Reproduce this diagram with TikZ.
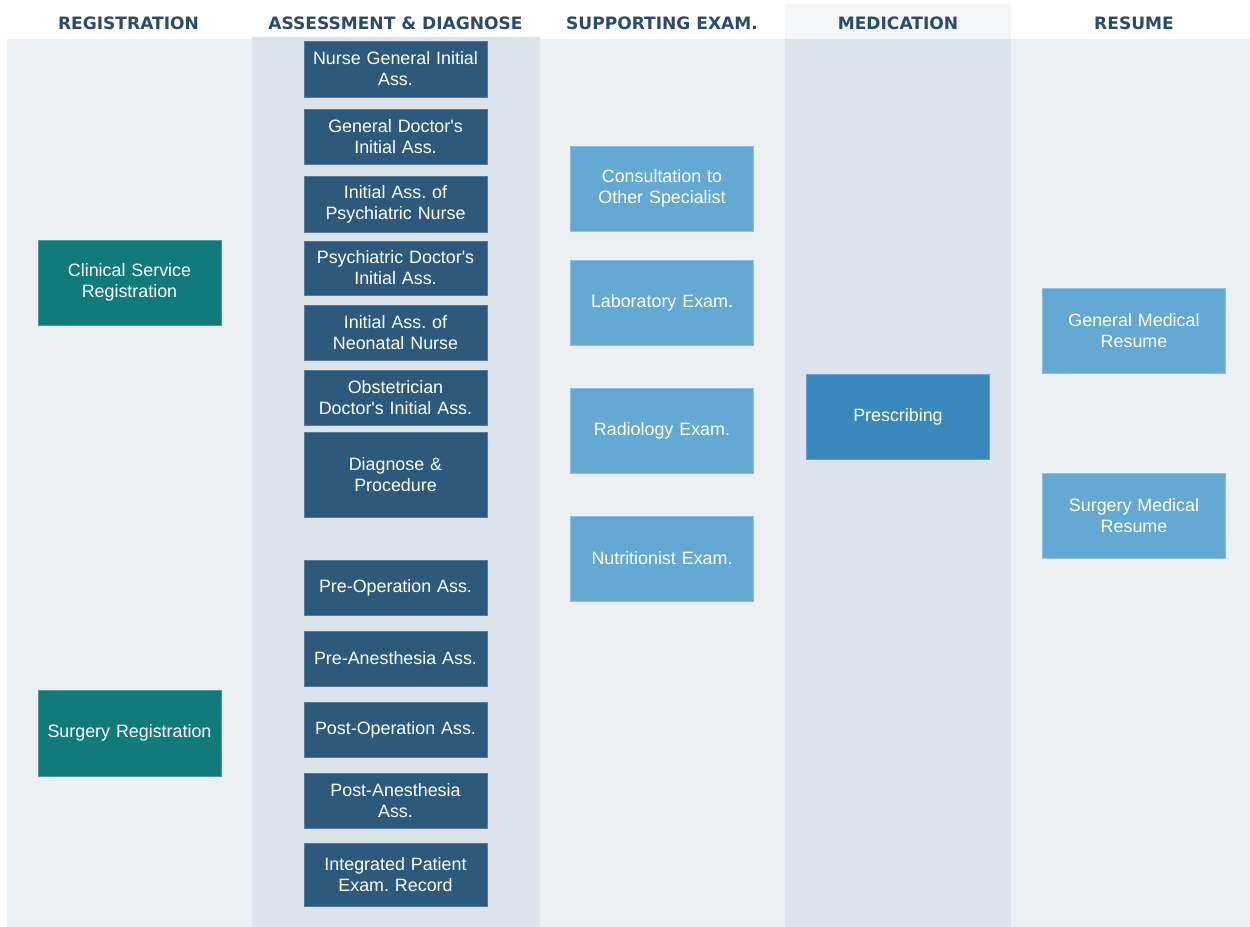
\documentclass[tikz,border=0pt]{standalone}
\usepackage{fontspec}
\setmainfont{Liberation Sans}
\newfontfamily\headfont{DejaVu Sans}
\frenchspacing

\definecolor{panelbg}{HTML}{ECF0F3}
\definecolor{lanebg}{HTML}{DCE3EA}
\definecolor{medhead}{HTML}{F4F6F8}
\definecolor{headtext}{HTML}{2C4A6B}
\definecolor{tealbox}{HTML}{117A7B}
\definecolor{navybox}{HTML}{2D5A7C}
\definecolor{skybox}{HTML}{64A8D4}
\definecolor{midbox}{HTML}{3A89BE}

% straight apostrophe, as in "Doctor's"
\newcommand{\apos}{\textquotesingle}

\tikzset{
  card/.style={rectangle, inner sep=0pt, minimum width=137.25pt,
    text width=130pt, align=center, text=white,
    font=\fontsize{13.4}{15.75}\selectfont, line width=0.6pt},
  regcard/.style={card, fill=tealbox, draw=tealbox!75!white},
  asscard/.style={card, fill=navybox, draw=navybox!80!white},
  supcard/.style={card, fill=skybox, draw=skybox!75!white},
  medcard/.style={card, fill=midbox, draw=midbox!80!white},
  bh/.style={minimum height=#1*0.75pt},
  lanehead/.style={font=\headfont\bfseries\fontsize{12.8}{14}\selectfont,
    text=headtext, inner sep=0pt},
}

\begin{document}
\begin{tikzpicture}[x=0.75pt,y=-0.75pt]
  \useasboundingbox (0,0) rectangle (1250,927);

  % swimlane backgrounds
  \fill[white] (0,0) rectangle (1250,927);
  \fill[panelbg] (7,39) rectangle (1250,927);
  \fill[lanebg] (252,37) rectangle (540,927);
  \fill[medhead] (785,4) rectangle (1011,39);
  \fill[lanebg] (785,39) rectangle (1011,927);

  % lane titles
  \node[lanehead] (hreg) at (128.5,23.5) {REGISTRATION};
  \node[lanehead] (hass) at (395.5,23.5) {ASSESSMENT \& DIAGNOSE};
  \node[lanehead] (hsup) at (662,23.5) {SUPPORTING EXAM.};
  \node[lanehead] (hmed) at (898,23.5) {MEDICATION};
  \node[lanehead] (hres) at (1134,23.5) {RESUME};

  % registration
  \node[regcard, bh=85] (clinreg) at (129.5,282.5) {Clinical Service\\Registration};
  \node[regcard, bh=86] (surgreg) at (129.5,733) {Surgery Registration};

  % assessment & diagnose
  \node[asscard, bh=56] (a1) at (395.5,69) {Nurse General Initial\\Ass.};
  \node[asscard, bh=55] (a2) at (395.5,136.5) {General Doctor\apos s\\Initial Ass.};
  \node[asscard, bh=56] (a3) at (395.5,204) {Initial Ass. of\\Psychiatric Nurse};
  \node[asscard, bh=54] (a4) at (395.5,268) {Psychiatric Doctor\apos s\\Initial Ass.};
  \node[asscard, bh=55] (a5) at (395.5,332.5) {Initial Ass. of\\Neonatal Nurse};
  \node[asscard, bh=55] (a6) at (395.5,397.5) {Obstetrician\\Doctor\apos s Initial Ass.};
  \node[asscard, bh=85] (a7) at (395.5,474.5) {Diagnose \&\\Procedure};
  \node[asscard, bh=55] (a8) at (395.5,587.5) {Pre-Operation Ass.};
  \node[asscard, bh=55] (a9) at (395.5,658.5) {Pre-Anesthesia Ass.};
  \node[asscard, bh=55] (a10) at (395.5,729.5) {Post-Operation Ass.};
  \node[asscard, bh=55] (a11) at (395.5,800.5) {Post-Anesthesia\\Ass.};
  \node[asscard, bh=63] (a12) at (395.5,874.5) {Integrated Patient\\Exam. Record};

  % supporting exam.
  \node[supcard, bh=85] (s1) at (662,188.5) {Consultation to\\Other Specialist};
  \node[supcard, bh=85] (s2) at (662,302.5) {Laboratory Exam.};
  \node[supcard, bh=85] (s3) at (662,430.5) {Radiology Exam.};
  \node[supcard, bh=85] (s4) at (662,558.5) {Nutritionist Exam.};

  % medication
  \node[medcard, bh=85] (m1) at (898,416.5) {Prescribing};

  % resume
  \node[supcard, bh=85] (r1) at (1134,331) {General Medical\\Resume};
  \node[supcard, bh=85] (r2) at (1134,516) {Surgery Medical\\Resume};
\end{tikzpicture}
\end{document}
